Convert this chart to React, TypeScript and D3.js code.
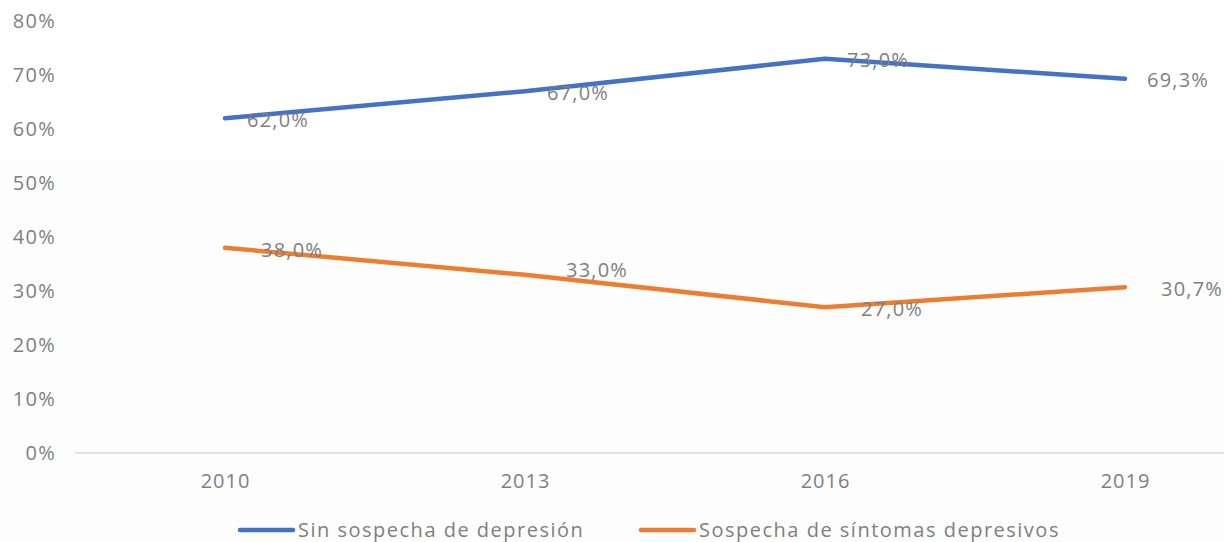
import React from "react";
import * as d3 from "d3";

const years = ["2010", "2013", "2016", "2019"];
const sinSospecha = [62.0, 67.0, 73.0, 69.3];
const sospecha = [38.0, 33.0, 27.0, 30.7];
const yTicks = [0, 10, 20, 30, 40, 50, 60, 70, 80];
const seriesNames = ["Sin sospecha de depresión", "Sospecha de síntomas depresivos"];
const colors = ["#4472C4", "#ED7D31"];

const W = 1224;
const H = 542;
const FONT = "'Open Sans', 'DejaVu Sans', sans-serif";
const GRAY = "#7f7f7f";

export default function App() {
  const x = d3.scaleBand<string>().domain(years).range([75, 1275]).padding(0);
  const cx = (d: string) => (x(d) ?? 0) + x.bandwidth() / 2;
  const y = d3.scaleLinear().domain([0, 80]).range([453, 21]);
  const line = d3
    .line<number>()
    .x((_, i) => cx(years[i]))
    .y((v) => y(v));
  const fmt = (v: number) => v.toFixed(1).replace(".", ",") + "%";
  const series = [sinSospecha, sospecha];
  const labelDx = [[22, 22, 22, 22], [36, 41, 36, 36]];
  const labelDy = [[2, 2, 1, 1], [2, -5, 2, 2]];

  return (
    <svg width={W} height={H} style={{ position: "absolute", left: 0, top: 0, background: "#fff" }}>
      <rect x={0} y={0} width={W} height={H} fill="#ffffff" />
      <rect x={0} y={160} width={W} height={H - 160} fill="#fdfdfd" />
      <g>
        {yTicks.map((t) => (
          <text
            key={t}
            x={56}
            y={y(t)}
            dy="0.36em"
            textAnchor="end"
            fontFamily={FONT}
            fontSize={20}
            letterSpacing={1.3}
            fill={GRAY}
          >
            {t + "%"}
          </text>
        ))}
      </g>
      <line x1={75} x2={W} y1={y(0)} y2={y(0)} stroke="#d9d9d9" strokeWidth={1.5} />
      {years.map((yr) => (
        <text
          key={yr}
          x={cx(yr) + 0.5}
          y={481}
          dy="0.36em"
          textAnchor="middle"
          fontFamily={FONT}
          fontSize={20}
          letterSpacing={1}
          fill={GRAY}
        >
          {yr}
        </text>
      ))}
      {series.map((s, si) => (
        <path
          key={si}
          d={line(s) ?? ""}
          fill="none"
          stroke={colors[si]}
          strokeWidth={4.5}
          strokeLinecap="round"
          strokeLinejoin="round"
        />
      ))}
      {series.map((s, si) =>
        s.map((v, i) => (
          <text
            key={si + "-" + i}
            x={cx(years[i]) + labelDx[si][i]}
            y={y(v) + labelDy[si][i]}
            dy="0.36em"
            fontFamily={FONT}
            fontSize={20}
            letterSpacing={1.2}
            fill={GRAY}
          >
            {fmt(v)}
          </text>
        ))
      )}
      {seriesNames.map((name, i) => {
        const lx = i === 0 ? 240 : 641;
        return (
          <g key={name}>
            <line
              x1={lx}
              x2={lx + 53}
              y1={530}
              y2={530}
              stroke={colors[i]}
              strokeWidth={4.5}
              strokeLinecap="round"
            />
            <text
              x={lx + 58}
              y={530}
              dy="0.36em"
              fontFamily={FONT}
              fontSize={20}
              letterSpacing={1.5}
              fill={GRAY}
            >
              {name}
            </text>
          </g>
        );
      })}
    </svg>
  );
}
